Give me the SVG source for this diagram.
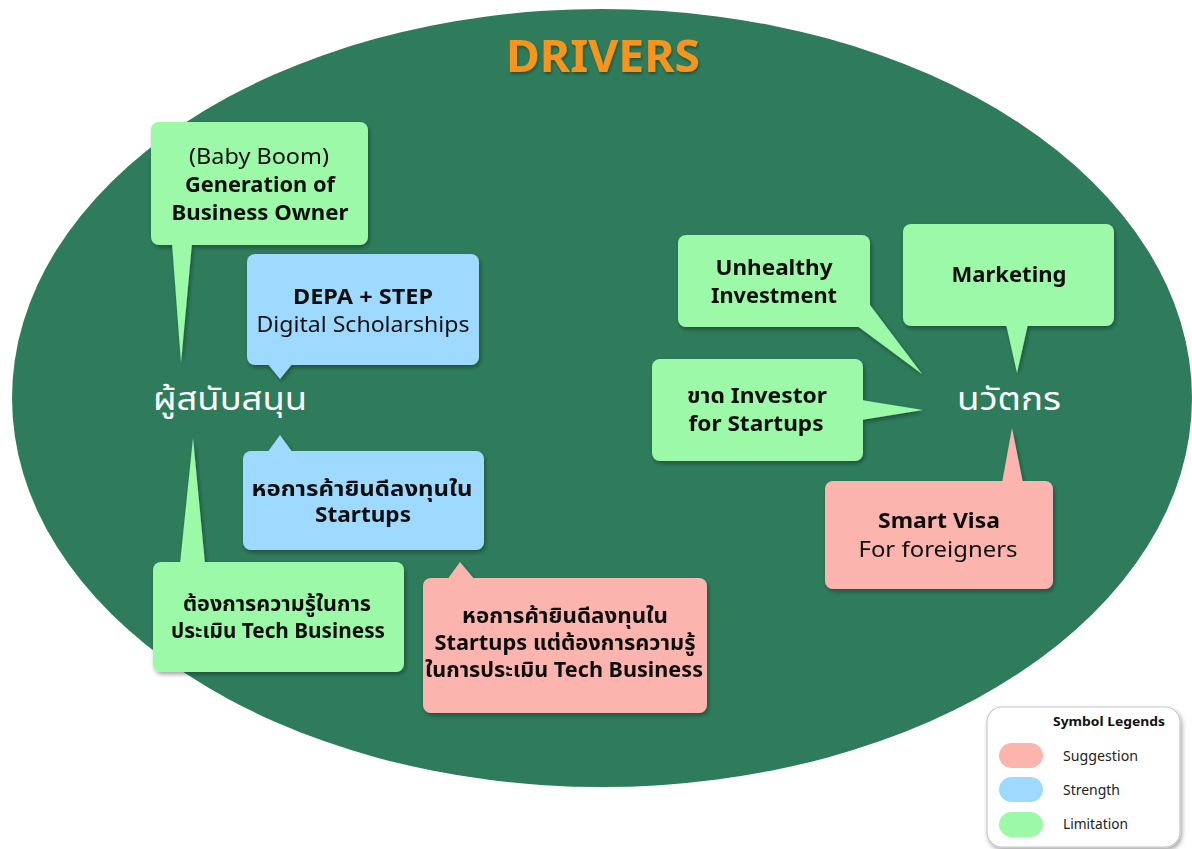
<svg xmlns="http://www.w3.org/2000/svg" width="1192" height="849" viewBox="0 0 1192 849">
<defs>
<filter id="sh" x="-10%" y="-10%" width="130%" height="130%">
<feDropShadow dx="1.5" dy="2.5" stdDeviation="2" flood-color="#000" flood-opacity="0.35"/>
</filter>
<filter id="tsh" x="-10%" y="-10%" width="120%" height="130%">
<feDropShadow dx="1" dy="2" stdDeviation="1.5" flood-color="#000" flood-opacity="0.35"/>
</filter>
</defs>
<style>
.g{fill:#9CF9A7}
.b{fill:#9ED9FF}
.p{fill:#FBB5AE}
text{font-family:"Noto Sans","Open Sans","Noto Sans Thai","Loma","Garuda",sans-serif;fill:#111;text-anchor:middle}
.t{font-size:21px}
.bd{font-weight:bold}
.lbl{font-size:32px;fill:#fff}
.lg{font-size:13.5px;text-anchor:start;fill:#222}
</style>
<rect width="1192" height="849" fill="#fff"/>
<ellipse cx="602" cy="398" rx="590" ry="389" fill="#2F7C5C"/>
<text x="603" y="72" font-size="44" font-weight="bold" style="fill:#F7941D" filter="url(#tsh)" textLength="194" lengthAdjust="spacingAndGlyphs">DRIVERS</text>

<g id="connectors"></g>

<g id="lbl-supporter"><text class="lbl" x="230" y="410" textLength="154" lengthAdjust="spacingAndGlyphs">ผู้สนับสนุน</text></g>
<g id="lbl-innovator"><text class="lbl" x="1009" y="410" textLength="104" lengthAdjust="spacingAndGlyphs">นวัตกร</text></g>

<g id="n-babyboom" filter="url(#sh)">
<rect class="g" x="151" y="122" width="217" height="123" rx="8"/>
<polygon class="g" points="172,243 192,243 181,363"/>
<text class="t" x="259" y="164" textLength="140" lengthAdjust="spacingAndGlyphs">(Baby Boom)</text>
<text class="t bd" x="260" y="192" textLength="150" lengthAdjust="spacingAndGlyphs">Generation of</text>
<text class="t bd" x="260" y="220" textLength="177" lengthAdjust="spacingAndGlyphs">Business Owner</text>
</g>

<g id="n-depa" filter="url(#sh)">
<rect class="b" x="247" y="254" width="232" height="111" rx="8"/>
<polygon class="b" points="267,363 293,363 280,379"/>
<text class="t bd" x="363" y="304" textLength="140" lengthAdjust="spacingAndGlyphs">DEPA + STEP</text>
<text class="t" x="363" y="332" textLength="213" lengthAdjust="spacingAndGlyphs">Digital Scholarships</text>
</g>

<g id="n-chamber" filter="url(#sh)">
<rect class="b" x="243" y="451" width="241" height="99" rx="8"/>
<polygon class="b" points="267,453 293,453 280,435"/>
<text class="t bd" x="362" y="496" textLength="221" lengthAdjust="spacingAndGlyphs">หอการค้ายินดีลงทุนใน</text>
<text class="t bd" x="363" y="522" textLength="96" lengthAdjust="spacingAndGlyphs">Startups</text>
</g>

<g id="n-knowledge" filter="url(#sh)">
<rect class="g" x="153" y="562" width="251" height="110" rx="8"/>
<polygon class="g" points="180,564 205,564 193,438"/>
<text class="t bd" x="277" y="611" textLength="188" lengthAdjust="spacingAndGlyphs">ต้องการความรู้ในการ</text>
<text class="t bd" x="278" y="638" textLength="214" lengthAdjust="spacingAndGlyphs">ประเมิน Tech Business</text>
</g>

<g id="n-chamber-sugg" filter="url(#sh)">
<rect class="p" x="423" y="578" width="284" height="135" rx="8"/>
<polygon class="p" points="447,580 475,580 460,562"/>
<text class="t bd" x="565" y="623" textLength="206" lengthAdjust="spacingAndGlyphs">หอการค้ายินดีลงทุนใน</text>
<text class="t bd" x="565" y="650" textLength="261" lengthAdjust="spacingAndGlyphs">Startups แต่ต้องการความรู้</text>
<text class="t bd" x="564" y="677" textLength="278" lengthAdjust="spacingAndGlyphs">ในการประเมิน Tech Business</text>
</g>

<g id="n-unhealthy" filter="url(#sh)">
<rect class="g" x="678" y="235" width="192" height="92" rx="8"/>
<polygon class="g" points="856,325 870,305 922,374"/>
<text class="t bd" x="774" y="275" textLength="117" lengthAdjust="spacingAndGlyphs">Unhealthy</text>
<text class="t bd" x="774" y="303" textLength="126" lengthAdjust="spacingAndGlyphs">Investment</text>
</g>

<g id="n-marketing" filter="url(#sh)">
<rect class="g" x="903" y="224" width="211" height="102" rx="8"/>
<polygon class="g" points="1006,324 1028,324 1017,373"/>
<text class="t bd" x="1009" y="282" textLength="115" lengthAdjust="spacingAndGlyphs">Marketing</text>
</g>

<g id="n-investor" filter="url(#sh)">
<rect class="g" x="652" y="359" width="211" height="102" rx="8"/>
<polygon class="g" points="861,400 861,420 923,410"/>
<text class="t bd" x="757" y="403" textLength="140" lengthAdjust="spacingAndGlyphs">ขาด Investor</text>
<text class="t bd" x="756" y="431" textLength="135" lengthAdjust="spacingAndGlyphs">for Startups</text>
</g>

<g id="n-smartvisa" filter="url(#sh)">
<rect class="p" x="825" y="481" width="228" height="108" rx="8"/>
<polygon class="p" points="1002,483 1023,483 1012,428"/>
<text class="t bd" x="939" y="528" textLength="122" lengthAdjust="spacingAndGlyphs">Smart Visa</text>
<text class="t" x="938" y="557" textLength="159" lengthAdjust="spacingAndGlyphs">For foreigners</text>
</g>

<g id="legend">
<rect x="987" y="707" width="193" height="140" rx="15" fill="#fff" stroke="#c8c8c8" stroke-width="1.2" filter="url(#sh)"/>
<text x="1109" y="726" font-size="13" font-weight="bold" textLength="112" lengthAdjust="spacingAndGlyphs">Symbol Legends</text>
<rect x="999" y="743" width="44" height="25" rx="12.5" fill="#FBB5AE"/>
<rect x="999" y="777" width="44" height="25" rx="12.5" fill="#9ED9FF"/>
<rect x="999" y="812" width="44" height="25" rx="12.5" fill="#9CF9A7"/>
<text class="lg" x="1063" y="761" textLength="75" lengthAdjust="spacingAndGlyphs">Suggestion</text>
<text class="lg" x="1063" y="795" textLength="57" lengthAdjust="spacingAndGlyphs">Strength</text>
<text class="lg" x="1063" y="829" textLength="65" lengthAdjust="spacingAndGlyphs">Limitation</text>
</g>
</svg>
